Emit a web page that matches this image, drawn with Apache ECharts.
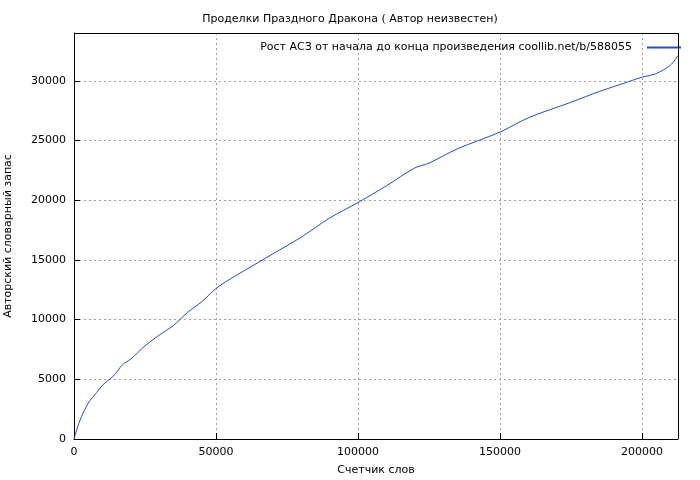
<!DOCTYPE html>
<html><head><meta charset="utf-8">
<script src="https://cdn.jsdelivr.net/npm/echarts@6/dist/echarts.min.js"></script>
<style>body{margin:0}#container{width:700px;height:480px}</style>
</head><body><div id="container"></div>
<script>
var words = [0, 2000, 5000, 8000, 10000, 14000, 17000, 20000, 25000, 30000, 35000, 40000, 45000, 50000, 55000, 60000, 70000, 80000, 90000, 100000, 110000, 120000, 125000, 135000, 150000, 160000, 175000, 185000, 195000, 200000, 205000, 210000, 212700];
var vocab = [0, 1500, 3000, 3900, 4500, 5300, 6200, 6700, 7800, 8700, 9500, 10600, 11500, 12600, 13400, 14100, 15500, 16900, 18500, 19800, 21200, 22700, 23100, 24300, 25700, 26900, 28200, 29100, 29900, 30300, 30600, 31300, 32100];

var dom = document.getElementById("container");
var myChart = echarts.init(dom);
var font = 'DejaVu Sans';
var gridLine = {show: true, lineStyle: {color: '#a0a0a0', type: [2, 3], width: 1}};
var plain = function (v) { return String(v); };

option = {
    animation: false,
    backgroundColor: '#fff',
    textStyle: {fontFamily: font},
    title: {
        text: 'Проделки Праздного Дракона ( Автор неизвестен)',
        left: 'center', top: 9,
        textStyle: {fontSize: 11, fontWeight: 'normal', color: '#000', fontFamily: font}
    },
    legend: {
        data: ['Рост АСЗ от начала до конца произведения coollib.net/b/588055'],
        right: 14, top: 37, align: 'right',
        itemWidth: 34, itemHeight: 2, itemGap: 0,
        icon: 'rect',
        textStyle: {fontSize: 11, color: '#000', fontFamily: font, padding: [0, 10, 0, 0]}
    },
    grid: {left: 74, right: 22, top: 33, bottom: 41, containLabel: false, outerBoundsMode: 'none'},
    xAxis: {
        type: 'value', min: 0, max: 212700, interval: 50000,
        name: 'Счетчик слов', nameLocation: 'middle', nameGap: 26,
        nameTextStyle: {fontSize: 11, color: '#000'},
        axisLine: {show: true, lineStyle: {color: '#000'}},
        axisTick: {inside: true, length: 6, lineStyle: {color: '#000'}},
        axisLabel: {fontSize: 11, color: '#000', showMaxLabel: false, formatter: plain},
        splitLine: gridLine
    },
    yAxis: {
        type: 'value', min: 0, max: 34000, interval: 5000,
        name: 'Авторский словарный запас', nameLocation: 'middle', nameGap: 60,
        nameTextStyle: {fontSize: 11, color: '#000'},
        axisLine: {show: true, lineStyle: {color: '#000'}},
        axisTick: {inside: true, length: 6, lineStyle: {color: '#000'}},
        axisLabel: {fontSize: 11, color: '#000', showMaxLabel: false, formatter: plain},
        splitLine: gridLine
    },
    series: [{
        name: 'Рост АСЗ от начала до конца произведения coollib.net/b/588055',
        type: 'line', showSymbol: false, smooth: 0.3,
        lineStyle: {color: '#1f4fbf', width: 1},
        itemStyle: {color: '#1f4fbf'},
        data: words.map(function (w, i) { return [w, vocab[i]]; })
    }, {
        type: 'line', data: [],
        markLine: {silent: true, symbol: 'none', label: {show: false},
            lineStyle: {color: '#000', type: 'solid', width: 1},
            data: [{xAxis: 212700}, {yAxis: 34000}]}
    }]
};
myChart.setOption(option, true);
</script></body></html>
